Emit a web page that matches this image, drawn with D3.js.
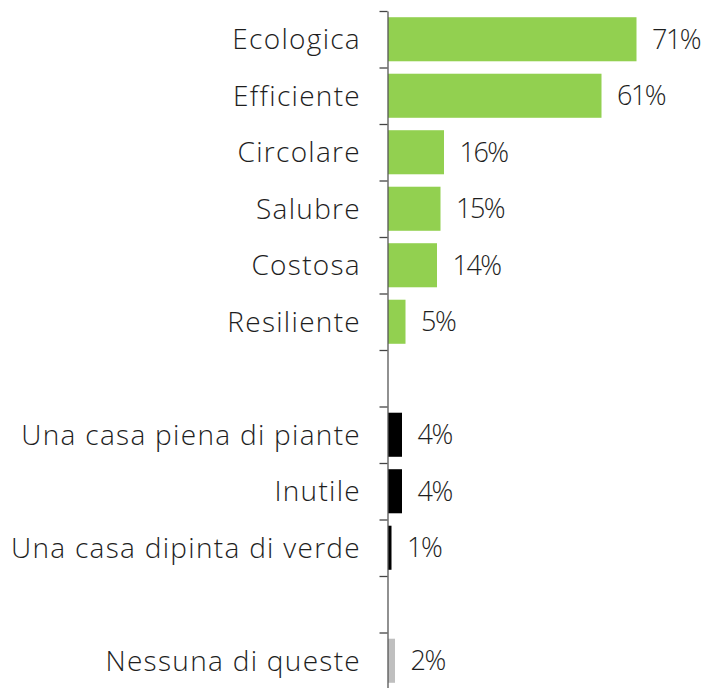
<!DOCTYPE html>
<html>
<head>
<meta charset="utf-8">
<script src="https://cdn.jsdelivr.net/npm/d3@7"></script>
<style>
  html, body { margin: 0; padding: 0; background: #fff; }
  svg { display: block; }
  text { font-family: "Open Sans", sans-serif; font-weight: 300; fill: #1e1e1e; }
</style>
</head>
<body>
<svg id="chart" width="701" height="688"></svg>
<script>
// Rows top to bottom; "_gap" keys are spacer rows between groups
const categories = [
  "Ecologica", "Efficiente", "Circolare", "Salubre", "Costosa", "Resiliente",
  "_gap1",
  "Una casa piena di piante", "Inutile", "Una casa dipinta di verde",
  "_gap2",
  "Nessuna di queste"
];
const values = [71, 61, 16, 15, 14, 5, null, 4, 4, 1, null, 2];
const groups = ["pos", "pos", "pos", "pos", "pos", "pos", null, "neg", "neg", "neg", null, "none"];
const groupColors = { pos: "#92d050", neg: "#000000", none: "#bfbfbf" };

const svg = d3.select("#chart");
const axisX = 387.5;
const yTop = 11, rowStep = 56.5;

const y = d3.scaleBand()
  .domain(categories)
  .range([yTop, yTop + rowStep * categories.length])
  .paddingInner(0.22)
  .paddingOuter(0.11);

// index scale used for the boundary ticks between rows
const yIdx = d3.scaleLinear()
  .domain([0, categories.length])
  .range([yTop, yTop + rowStep * categories.length]);

const x = d3.scaleLinear().domain([0, 100]).range([axisX, axisX + 350]);

const rows = categories.map((c, i) => ({ cat: c, value: values[i], group: groups[i] }));
const data = rows.filter(d => d.value != null);

svg.selectAll("rect.bar")
  .data(data)
  .join("rect")
  .attr("class", "bar")
  .attr("x", x(0) + 0.5)
  .attr("y", d => y(d.cat))
  .attr("width", d => x(d.value) - x(0))
  .attr("height", y.bandwidth())
  .attr("fill", d => groupColors[d.group]);

// axis with ticks on row boundaries
const axis = d3.axisLeft(yIdx)
  .tickValues(d3.range(0, categories.length))
  .tickSize(8)
  .tickSizeOuter(0)
  .tickFormat("");

const gAxis = svg.append("g")
  .attr("transform", `translate(${axisX},0)`)
  .call(axis);
gAxis.select(".domain").attr("stroke", "#555").attr("stroke-width", 1.3);
gAxis.selectAll(".tick line").attr("stroke", "#444").attr("stroke-width", 1.3);

// category labels
svg.selectAll("text.cat")
  .data(data)
  .join("text")
  .attr("class", "cat")
  .attr("x", 361)
  .attr("y", d => y(d.cat) + y.bandwidth() / 2)
  .attr("dy", "0.36em")
  .attr("text-anchor", "end")
  .style("font-size", "28px")
  .style("letter-spacing", "1.3px")
  .text(d => d.cat);

// value labels
svg.selectAll("text.val")
  .data(data)
  .join("text")
  .attr("class", "val")
  .attr("x", d => x(d.value) + 16)
  .attr("y", d => y(d.cat) + y.bandwidth() / 2)
  .attr("dy", "0.36em")
  .style("font-size", "27px")
  .style("letter-spacing", "-1.5px")
  .text(d => d.value + "%");
</script>
</body>
</html>
